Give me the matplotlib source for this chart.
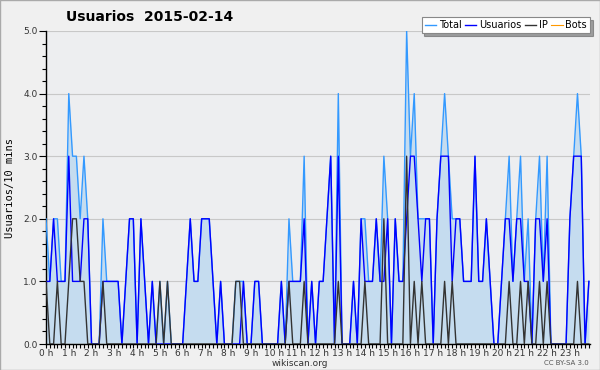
import matplotlib
matplotlib.use("Agg")
import matplotlib.pyplot as plt
from matplotlib.ticker import MultipleLocator, FixedLocator
import numpy as np

# 10-minute buckets over the day (144 values)
usuarios = [1, 1, 2, 1, 1, 1, 3, 1, 1, 1, 2, 2, 0, 0, 0, 1, 1, 1, 1, 1,
            0, 1, 2, 2, 0, 2, 1, 0, 1, 0, 0, 0, 0, 0, 0, 0, 0, 1, 2, 1,
            1, 2, 2, 2, 1, 0, 1, 0, 0, 0, 0, 0, 1, 0, 0, 1, 1, 0, 0, 0,
            0, 0, 1, 0, 1, 1, 1, 1, 2, 0, 1, 0, 1, 1, 2, 3, 0, 3, 0, 0,
            0, 1, 0, 2, 1, 1, 1, 2, 1, 1, 2, 0, 2, 1, 1, 2, 3, 3, 2, 1,
            2, 2, 0, 2, 3, 3, 3, 1, 2, 2, 1, 1, 1, 3, 1, 1, 2, 1, 0, 0,
            1, 2, 2, 1, 2, 2, 1, 1, 0, 2, 2, 1, 2, 0, 0, 0, 0, 0, 2, 3,
            3, 3, 0, 1]
ip = [1, 0, 0, 1, 0, 0, 1, 2, 2, 1, 1, 0, 0, 0, 0, 1, 0, 0, 0, 0,
      0, 0, 0, 0, 0, 0, 0, 0, 0, 0, 1, 0, 1, 0, 0, 0, 0, 0, 0, 0,
      0, 0, 0, 0, 0, 0, 0, 0, 0, 0, 1, 1, 0, 0, 0, 0, 0, 0, 0, 0,
      0, 0, 0, 0, 1, 0, 0, 0, 1, 0, 0, 0, 0, 0, 0, 0, 0, 1, 0, 0,
      0, 0, 0, 0, 1, 0, 0, 0, 0, 2, 0, 0, 0, 0, 0, 3, 0, 1, 0, 1,
      0, 0, 0, 0, 0, 1, 0, 1, 0, 0, 0, 0, 0, 0, 0, 0, 0, 0, 0, 0,
      0, 0, 1, 0, 0, 1, 0, 1, 0, 0, 1, 0, 1, 0, 0, 0, 0, 0, 0, 0,
      1, 0, 0, 0]
bots = [0] * 144
total = [u + i + b for u, i, b in zip(usuarios, ip, bots)]

hour_labels = [f"{h} h" for h in range(24)]
title = "Usuarios  2015-02-14"
ylabel = "Usuarios/10 mins"

x = np.arange(len(total))

fig = plt.figure(figsize=(6, 3.7), dpi=100, facecolor="#f0f0f0")
ax = fig.add_axes([46/600, 26/370, 544/600, 313/370])
ax.set_facecolor("#edeef0")

ax.fill_between(x, total, 0, color="#c5dcef", lw=0, zorder=1)
ax.plot(x, bots, color="#ff9900", lw=0.8, label="Bots", zorder=1.5)
ax.plot(x, total, color="#3399ff", lw=1.0, label="Total", zorder=3)
ax.plot(x, usuarios, color="#0000ff", lw=1.0, label="Usuarios", zorder=4)
ax.plot(x, ip, color="#333333", lw=1.0, label="IP", zorder=5)

ax.set_xlim(0, 143.3)
ax.set_ylim(0, 5)
ax.yaxis.set_major_locator(MultipleLocator(1))
ax.yaxis.set_minor_locator(MultipleLocator(0.2))
ax.set_yticks(np.arange(0, 6, 1))
ax.set_yticklabels([f"{v:.1f}" for v in np.arange(0, 6, 1)])
ax.xaxis.set_major_locator(FixedLocator(np.arange(0, 144, 6)))
ax.xaxis.set_minor_locator(MultipleLocator(1))
ax.set_xticklabels(hour_labels)
ax.tick_params(axis="both", labelsize=6.5, colors="black", labelcolor="#333333")
ax.tick_params(axis="y", which="major", length=5, width=0.8, pad=1)
ax.tick_params(axis="y", which="minor", length=3, width=0.8)
ax.tick_params(axis="x", which="major", length=3, width=0.8, pad=0.5)
ax.tick_params(axis="x", which="minor", length=3, width=0.8)
ax.grid(axis="y", which="major", color="#c8c8c8", lw=0.8, zorder=0)
ax.set_axisbelow(True)
for s in ["top", "right"]:
    ax.spines[s].set_visible(False)
ax.spines["left"].set_linewidth(1.0)
ax.spines["bottom"].set_linewidth(1.0)

ax.set_ylabel(ylabel, fontsize=7.5, family="DejaVu Sans Mono", labelpad=6)

fig.text(150/600, 1 - 17/370, title, ha="center", va="center",
         fontsize=10, fontweight="bold")
fig.text(300/600, 1 - 363/370, "wikiscan.org", ha="center", va="center",
         fontsize=6.5, color="#333333")
fig.text(589/600, 1 - 363/370, "CC BY-SA 3.0", ha="right", va="center",
         fontsize=5, color="#555555")

handles, labels = ax.get_legend_handles_labels()
order = [labels.index(n) for n in ["Total", "Usuarios", "IP", "Bots"]]
leg = fig.legend([handles[i] for i in order], [labels[i] for i in order],
                 loc="upper right", bbox_to_anchor=(590/600, 1 - 17/370),
                 ncol=4, fontsize=7, frameon=True, fancybox=False, shadow=True,
                 handlelength=1.2, handletextpad=0.3, columnspacing=0.3,
                 borderpad=0.3, borderaxespad=0)
leg.get_frame().set_edgecolor("#888888")
leg.get_frame().set_facecolor("white")
leg.get_frame().set_linewidth(0.8)

fig.patches.append(plt.Rectangle((0, 0), 1, 1, transform=fig.transFigure,
                                 fill=False, edgecolor="#aaaaaa", lw=1))

fig.savefig("out.png", dpi=100, facecolor=fig.get_facecolor())
